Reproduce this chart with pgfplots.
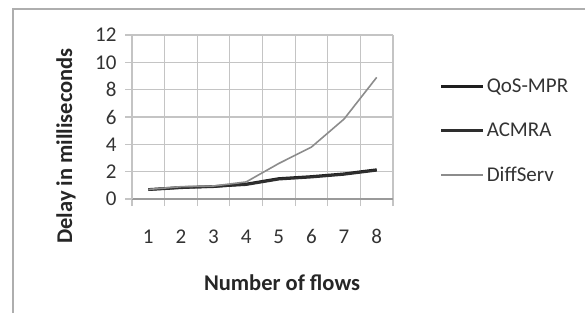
\documentclass[border=0pt]{standalone}
\usepackage{pgfplots}
\pgfplotsset{compat=1.18}
\usepackage{fontspec}
\setmainfont{Carlito}
\definecolor{gridc}{HTML}{C4C4C4}
\definecolor{axc}{HTML}{9A9A9A}
\definecolor{qos}{HTML}{1E1E1E}
\definecolor{acm}{HTML}{2E2E2E}
\definecolor{diff}{HTML}{8C8C8C}
\begin{document}
\begin{tikzpicture}
\useasboundingbox (0,0) rectangle (585pt,313pt);
\draw[color=axc!80, line width=1.2pt] (13pt,0pt) -- (13pt,304pt) -- (585pt,304pt);
\begin{axis}[
  scale only axis,
  width=261pt, height=164pt,
  at={(132pt,114pt)}, anchor=south west,
  xmin=0.5, xmax=8.5, ymin=0, ymax=12,
  xtick={1,2,3,4,5,6,7,8},
  minor xtick={0.5,1.5,2.5,3.5,4.5,5.5,6.5,7.5,8.5},
  ytick={0,2,4,6,8,10,12},
  xminorgrids, ymajorgrids,
  minor grid style={color=gridc, line width=1.1pt},
  major grid style={color=gridc, line width=1.1pt},
  axis x line*=bottom, axis y line*=left,
  x axis line style={color=axc, line width=1.2pt, -},
  y axis line style={color=gridc, line width=1.1pt, -},
  major x tick style={draw=none},
  minor x tick style={color=gridc, line width=1.1pt},
  minor tick length=7pt,
  major y tick style={color=gridc, line width=1.1pt},
  major tick length=7pt,
  tick align=outside,
  /pgf/number format/assume math mode=true,
  tick label style={font=\fontsize{21}{25}\selectfont, color=black!80},
  xticklabel style={yshift=-20pt},
  yticklabel style={xshift=-5pt},
  xlabel={\textbf{Number of flows}},
  ylabel={\textbf{Delay in milliseconds}},
  label style={font=\fontsize{22.5}{26}\selectfont, color=black!85},
  xlabel style={at={(axis description cs:0.575,-0.512)}, anchor=center},
  ylabel style={at={(axis description cs:-0.253,0.323)}, anchor=center},
  legend style={at={(axis description cs:1.18,0.745)}, anchor=north west, draw=none, fill=none,
    font=\fontsize{21}{25}\selectfont, row sep=25pt, inner sep=0pt, text=black!80},
  legend cell align=left,
  legend image code/.code={\draw[#1] (0pt,0pt) -- (42pt,0pt);},
  clip=false,
]
\addplot[color=qos, line width=2.6pt] coordinates {(1,0.7) (2,0.85) (3,0.9) (4,1.1) (5,1.5) (6,1.65) (7,1.85) (8,2.15)};
\addlegendentry{QoS-MPR}
\addplot[color=acm, line width=2.6pt] coordinates {(1,0.68) (2,0.82) (3,0.92) (4,1.05) (5,1.45) (6,1.6) (7,1.8) (8,2.1)};
\addlegendentry{ACMRA}
\addplot[color=diff, line width=1.6pt] coordinates {(1,0.7) (2,0.9) (3,0.95) (4,1.25) (5,2.6) (6,3.8) (7,5.85) (8,8.9)};
\addlegendentry{DiffServ}
\end{axis}
\end{tikzpicture}
\end{document}
